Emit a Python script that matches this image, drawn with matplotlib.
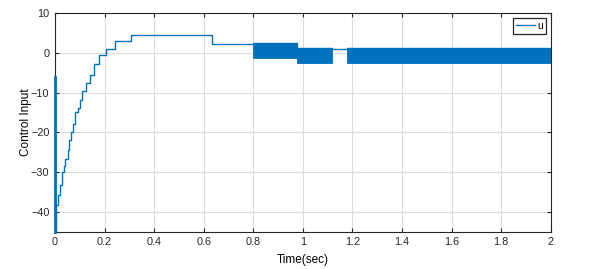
import matplotlib
matplotlib.use("Agg")
import matplotlib.pyplot as plt
from matplotlib.ticker import FuncFormatter

# staircase part of the control input
step_t = [0, 0, 0.004, 0.011, 0.019, 0.028, 0.035, 0.042, 0.051, 0.058, 0.065,
          0.073, 0.082, 0.091, 0.100, 0.111, 0.126, 0.142, 0.157, 0.179, 0.205,
          0.242, 0.305, 0.634, 0.80, 0.977, 1.118, 1.176, 2.0]
step_u = [-6.0, -45, -38.3, -35.8, -33.2, -30.0, -28.5, -26.7, -24.4, -22.0, -20.0,
          -17.9, -14.9, -13.9, -11.9, -9.7, -7.5, -5.6, -2.9, -0.5, 1.0,
          3.0, 4.5, 2.2, 2.4, 1.2, 1.0, 1.2, 1.2]

# chattering bands (fast switching between hi and lo)
band_start = [0.80, 0.977, 1.176]
band_end = [0.977, 1.118, 2.0]
band_hi = [2.4, 1.2, 1.2]
band_lo = [-1.3, -2.6, -2.6]

x_ticks = [0, 0.2, 0.4, 0.6, 0.8, 1.0, 1.2, 1.4, 1.6, 1.8, 2.0]
y_ticks = [-40, -30, -20, -10, 0, 10]

plt.rcParams['font.family'] = ['Liberation Sans', 'DejaVu Sans']
blue = "#0072BD"

fig = plt.figure(figsize=(6.04, 2.69), dpi=100)
ax = fig.add_axes([0.091, 0.1375, 0.821, 0.8145])

ax.step(step_t, step_u, where="post", color=blue, lw=1.0, label="u")
# thick start at t=0 sits over the left spine
ax.plot([0, 0], [step_u[0], step_u[1]], color=blue, lw=2.0, clip_on=False, zorder=3)
for s, e, hi, lo in zip(band_start, band_end, band_hi, band_lo):
    ax.fill_between([s, e], [hi, hi], [lo, lo], color=blue, lw=0.6, edgecolor=blue)

ax.set_xlim(0, 2)
ax.set_ylim(-45, 10)
ax.set_xticks(x_ticks)
ax.set_yticks(y_ticks)
ax.xaxis.set_major_formatter(FuncFormatter(lambda v, p: "%g" % v))
ax.grid(True, color="#dcdcdc", lw=0.8)
ax.set_axisbelow(True)
ax.tick_params(direction="in", top=True, right=True, length=3, width=0.8,
               labelsize=7.8, colors="#262626")
ax.tick_params(axis="y", pad=4)
for sp in ax.spines.values():
    sp.set_color("#262626")
    sp.set_linewidth(0.8)

ax.set_xlabel("Time(sec)", fontsize=8.5, labelpad=5)
ax.set_ylabel("Control Input", fontsize=8.5, labelpad=-0.5)

leg = ax.legend(loc="upper right", fontsize=7.5, handlelength=1.8, borderpad=0.3,
                fancybox=False, framealpha=1, borderaxespad=0.45, handletextpad=0.2)
leg.get_frame().set_edgecolor("#262626")
leg.get_frame().set_linewidth(0.9)

plt.savefig("out.png", dpi=100)
